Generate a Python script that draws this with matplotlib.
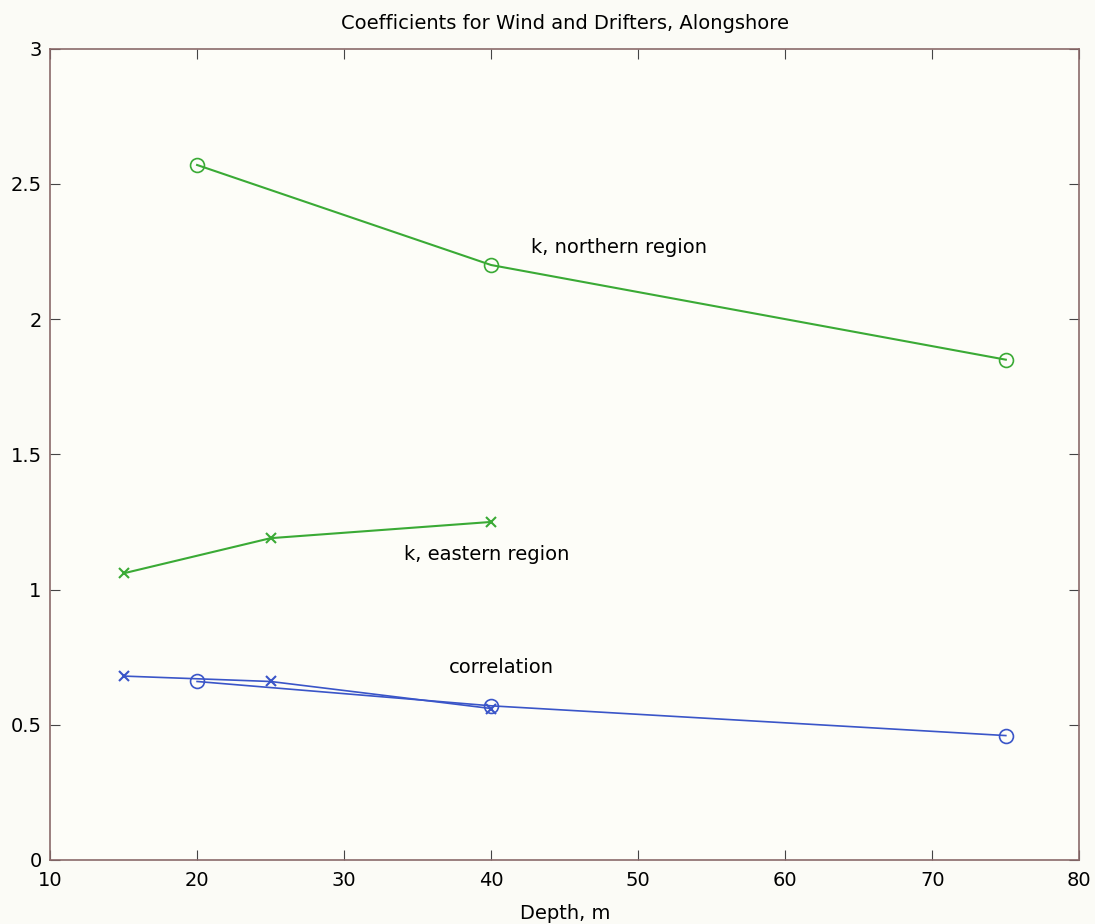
import numpy as np
import matplotlib.pyplot as plt

plt.rcParams['font.family'] = ['DejaVu Sans']

# data
depth_north = [20, 40, 75]
k_north = [2.57, 2.20, 1.85]
corr_north = [0.66, 0.57, 0.46]

depth_east = [15, 25, 40]
k_east = [1.06, 1.19, 1.25]
corr_east = [0.68, 0.66, 0.56]

green = "#3aaa35"
blue = "#3a55c8"

fig = plt.figure(figsize=(10.95, 9.24), dpi=100, facecolor="#fbfbf6")
ax = fig.add_axes([0.0457, 0.0693, 0.94, 0.878])
ax.set_facecolor("#fdfdf8")

ax.plot(depth_north, k_north, color=green, marker="o", markersize=10,
        markerfacecolor="none", markeredgewidth=1.2, linewidth=1.5)
ax.plot(depth_east, k_east, color=green, marker="x", markersize=7,
        markeredgewidth=1.5, linewidth=1.5)
ax.plot(depth_north, corr_north, color=blue, marker="o", markersize=10,
        markerfacecolor="none", markeredgewidth=1.2, linewidth=1.2)
ax.plot(depth_east, corr_east, color=blue, marker="x", markersize=7,
        markeredgewidth=1.5, linewidth=1.2)

ax.text(42.7, 2.265, "k, northern region", fontsize=14, va="center")
ax.text(34.1, 1.13, "k, eastern region", fontsize=14, va="center")
ax.text(37.1, 0.71, "correlation", fontsize=14, va="center")

ax.set_xlim(10, 80)
ax.set_ylim(0, 3)
ax.set_xticks(np.arange(10, 81, 10))
ax.set_yticks([0, 0.5, 1, 1.5, 2, 2.5, 3])
ax.set_yticklabels(["0", "0.5", "1", "1.5", "2", "2.5", "3"])
ax.tick_params(direction="in", top=True, right=True, length=7,
               labelsize=14, color="#444444")
ax.tick_params(axis="x", pad=8)
ax.tick_params(axis="y", pad=6)
for s in ax.spines.values():
    s.set_color("#8a6a6a")
    s.set_linewidth(1.2)

ax.set_title("Coefficients for Wind and Drifters, Alongshore", fontsize=14, pad=14)
ax.set_xlabel("Depth, m", fontsize=14, labelpad=10)

fig.savefig("out.png", dpi=100, facecolor=fig.get_facecolor())
